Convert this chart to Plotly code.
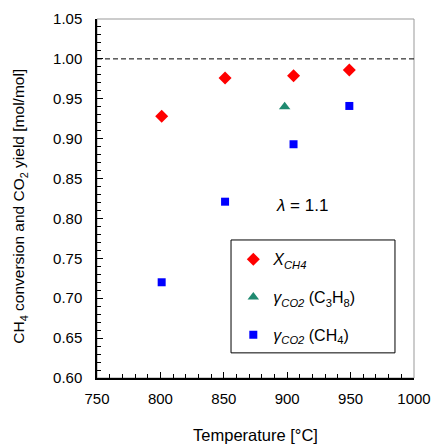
import plotly.graph_objects as go

temp_x = [801, 851, 905, 949]
x_ch4 = [0.928, 0.976, 0.979, 0.986]
temp_c3h8 = [898]
y_co2_c3h8 = [0.940]
temp_ch4 = [801, 851, 905, 949]
y_co2_ch4 = [0.720, 0.821, 0.893, 0.941]

FONT = "Liberation Sans, Arial, sans-serif"

fig = go.Figure()
fig.add_trace(go.Scatter(x=temp_x, y=x_ch4, mode="markers", name="<i>X<sub>CH4</sub></i>",
                         marker=dict(symbol="diamond", size=10, color="#ff0000"), legendgroup="a"))
fig.add_trace(go.Scatter(x=temp_c3h8, y=y_co2_c3h8, mode="markers", name="<i>γ<sub>CO2</sub></i> (C<sub>3</sub>H<sub>8</sub>)",
                         marker=dict(symbol="triangle-up", size=10, color="#1f8a70"), legendgroup="b"))
fig.add_trace(go.Scatter(x=temp_ch4, y=y_co2_ch4, mode="markers", name="<i>γ<sub>CO2</sub></i> (CH<sub>4</sub>)",
                         marker=dict(symbol="square", size=8, color="#0000ff"), legendgroup="c"))

# frame (gray top/right)
fig.add_shape(type="rect", xref="paper", yref="paper", x0=0, x1=1, y0=0, y1=1,
              line=dict(color="#999999", width=1), layer="below")
# dashed line at 1.00
fig.add_shape(type="line", xref="paper", yref="y", x0=0, x1=1, y0=1.0, y1=1.0,
              line=dict(color="black", width=1, dash="5px,3px"))
# legend box
fig.add_shape(type="rect", xref="x", yref="y", x0=855.7, x1=985, y0=0.6315, y1=0.773,
              line=dict(color="black", width=1), fillcolor="white", layer="below")

fig.add_annotation(x=911.7, y=0.8157, text="<i>λ</i> = 1.1", showarrow=False,
                   font=dict(size=17, color="black", family=FONT))

# y axis title as rotated annotation
fig.add_annotation(xref="paper", yref="paper", x=-0.243, y=0.48, xanchor="center", yanchor="middle",
                   text="CH<sub>4</sub> conversion and CO<sub>2</sub> yield [mol/mol]",
                   textangle=-90, showarrow=False, font=dict(size=15.5, color="black", family=FONT))

fig.update_layout(
    width=432, height=446,
    margin=dict(l=97, r=18, t=19, b=68),
    paper_bgcolor="white", plot_bgcolor="white",
    font=dict(family=FONT, color="black", size=15),
    showlegend=True,
    legend=dict(x=0.43, y=0.378, xanchor="left", yanchor="top", bgcolor="rgba(0,0,0,0)",
                borderwidth=0, font=dict(size=16), tracegroupgap=14),
    xaxis=dict(range=[750, 1000], dtick=50, tick0=750, showgrid=False, zeroline=False,
               showline=True, linecolor="black", linewidth=1.5, automargin=False,
               ticks="inside", ticklen=6, tickcolor="black",
               minor=dict(dtick=10, ticks="inside", ticklen=4, tickcolor="black"),
               tickfont=dict(size=15), ticklabelstandoff=6,
               title=dict(text="Temperature [°C]", font=dict(size=16.5), standoff=24)),
    yaxis=dict(range=[0.60, 1.05], dtick=0.05, tick0=0.6, tickformat=".2f", showgrid=False, zeroline=False,
               showline=True, linecolor="black", linewidth=1.5, automargin=False,
               ticks="inside", ticklen=6, tickcolor="black",
               minor=dict(dtick=0.01, ticks="inside", ticklen=4, tickcolor="black"),
               tickfont=dict(size=15), ticklabelstandoff=10),
)

fig.write_html("out.html", config={"displayModeBar": False},
               post_script="document.body.style.margin='0';document.body.style.overflow='hidden';")
